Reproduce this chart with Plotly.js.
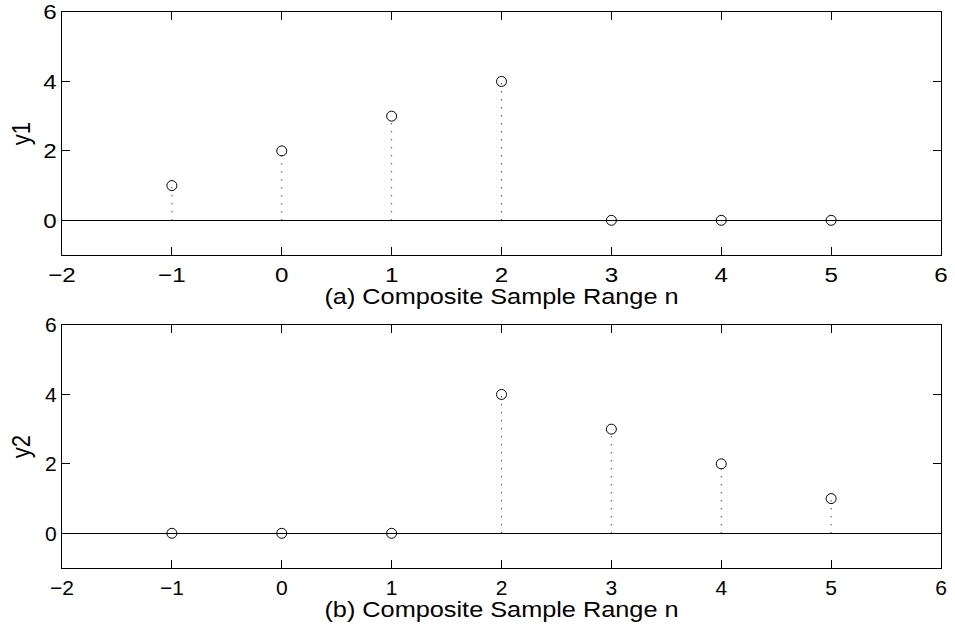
<!DOCTYPE html>
<html>
<head>
<meta charset="utf-8">
<script src="https://cdn.plot.ly/plotly-3.0.1.min.js"></script>
<style>
  html, body { margin: 0; padding: 0; background: #fff; }
  #chart { width: 955px; height: 632px; }
</style>
</head>
<body>
<div id="chart"></div>
<script>
// Sample indices and the two sequences
const n = [-1, 0, 1, 2, 3, 4, 5];
const y1 = [1, 2, 3, 4, 0, 0, 0];
const y2 = [0, 0, 0, 4, 3, 2, 1];

const xTickVals = [-2, -1, 0, 1, 2, 3, 4, 5, 6];
const yTickVals = [0, 2, 4, 6];
const xLabelA = '(a) Composite Sample Range n';
const xLabelB = '(b) Composite Sample Range n';
const yLabelA = 'y1';
const yLabelB = 'y2';

const FONT = 'Liberation Sans, Arial, Helvetica, sans-serif';
const TICK_STRETCH = 1.15;
const TITLE_STRETCH = 1.15;

// Build the dotted stems from zero up to each value
function stems(xs, ys) {
  const sx = [], sy = [];
  xs.forEach((x, i) => {
    if (ys[i] !== 0) { sx.push(x, x, null); sy.push(0, ys[i], null); }
  });
  return { sx, sy };
}

function stemTraces(xs, ys, xa, ya) {
  const s = stems(xs, ys);
  return [
    {
      x: s.sx, y: s.sy, xaxis: xa, yaxis: ya, type: 'scatter', mode: 'lines',
      line: { color: '#000', width: 1, dash: '1px,7px' },
      hoverinfo: 'skip', showlegend: false
    },
    {
      x: xs, y: ys, xaxis: xa, yaxis: ya, type: 'scatter', mode: 'markers',
      marker: { symbol: 'circle-open', size: 10, color: '#000', line: { width: 1, color: '#000' } },
      showlegend: false
    }
  ];
}

const data = [
  ...stemTraces(n, y1, 'x', 'y'),
  ...stemTraces(n, y2, 'x2', 'y2')
];

function xAxis(label, anchor) {
  return {
    anchor: anchor, range: [-2, 6], tickvals: xTickVals,
    ticks: 'inside', ticklen: 8, tickcolor: '#000', tickwidth: 1,
    showline: true, linecolor: '#000', linewidth: 1, mirror: 'ticks',
    showgrid: false, zeroline: false,
    tickfont: { family: FONT, size: 21, color: '#000' },
    ticklabelstandoff: 1,
    title: { text: label, font: { family: FONT, size: 22, color: '#000' }, standoff: 0 },
    automargin: false, fixedrange: true
  };
}
function yAxis(label, anchor, domain) {
  return {
    anchor: anchor, domain: domain, range: [-1, 6], tickvals: yTickVals,
    ticks: 'inside', ticklen: 8, tickcolor: '#000', tickwidth: 1,
    showline: true, linecolor: '#000', linewidth: 1, mirror: 'ticks',
    showgrid: false, zeroline: true, zerolinecolor: '#000', zerolinewidth: 1,
    tickfont: { family: FONT, size: 21, color: '#000' },
    title: { text: label, font: { family: FONT, size: 22, color: '#000' }, standoff: 8 },
    automargin: false, fixedrange: true
  };
}

const layout = {
  width: 955, height: 632,
  margin: { l: 62, r: 14, t: 12, b: 64 },
  paper_bgcolor: '#fff', plot_bgcolor: '#fff',
  showlegend: false,
  xaxis: xAxis(xLabelA, 'y'),
  yaxis: yAxis(yLabelA, 'x', [0.5629, 1]),
  xaxis2: xAxis(xLabelB, 'y2'),
  yaxis2: yAxis(yLabelB, 'x2', [0, 0.437])
};

// Widen the label glyphs a little around their anchor points, with an optional vertical nudge
function widen(sel, sx, sy, dy, gd) {
  gd.querySelectorAll(sel).forEach(t => {
    const x = parseFloat(t.getAttribute('x')) || 0;
    const y = parseFloat(t.getAttribute('y')) || 0;
    const tr = t.getAttribute('transform') || '';
    t.setAttribute('transform',
      `translate(0,${dy}) ` + tr + ` translate(${x},${y}) scale(${sx},${sy}) translate(${-x},${-y})`);
  });
}

Plotly.newPlot('chart', data, layout, { displayModeBar: false, staticPlot: true })
  .then(gd => {
    widen('.xtick text, .ytick text', TICK_STRETCH, 1, 0, gd);
    widen('.g-xtitle text, .g-x2title text', TITLE_STRETCH, 1, -2, gd);
    widen('.g-ytitle text, .g-y2title text', 1, TITLE_STRETCH, 0, gd);
  });
</script>
</body>
</html>
